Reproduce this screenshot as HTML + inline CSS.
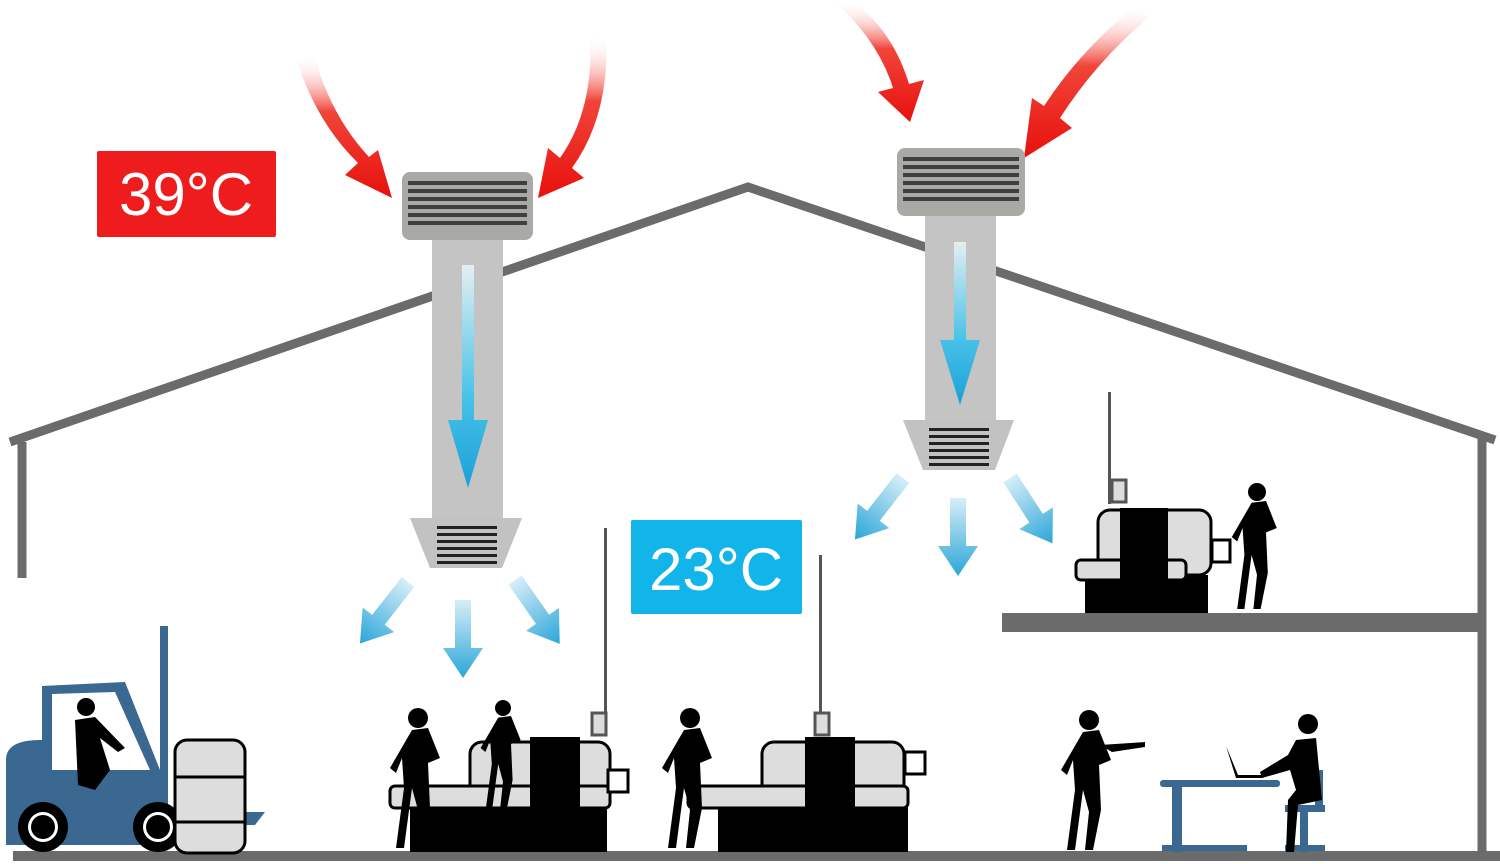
<!DOCTYPE html>
<html><head><meta charset="utf-8"><style>
html,body{margin:0;padding:0;background:#fff;}
svg{display:block}
text{font-family:"Liberation Sans",sans-serif}
</style></head><body>
<svg width="1500" height="864" viewBox="0 0 1500 864" xmlns="http://www.w3.org/2000/svg">
<defs>
<linearGradient id="red1" x1="0" y1="0" x2="0" y2="1"><stop offset="0" stop-color="#fff" stop-opacity="0"/><stop offset="0.4" stop-color="#f0453a"/><stop offset="1" stop-color="#e8100c"/></linearGradient>
<linearGradient id="blu" x1="0" y1="0" x2="0" y2="1"><stop offset="0" stop-color="#e6eef3"/><stop offset="0.6" stop-color="#46c2e8"/><stop offset="1" stop-color="#1ba0d6"/></linearGradient>
<linearGradient id="blu2" x1="0" y1="0" x2="0" y2="1"><stop offset="0" stop-color="#d6eef8"/><stop offset="1" stop-color="#2aa6d8"/></linearGradient>
<g id="person">
  <circle cx="0" cy="0" r="10"/>
  <path d="M-6 12 L10 10 L22 40 L10 45 L12 90 L4 130 L-4 130 L0 92 L-6 70 L-14 130 L-22 130 L-14 70 L-16 40 L-22 55 L-28 50 Z"/>
</g>
<g id="ba" fill="url(#blu2)"><path d="M-8 0 L8 0 L8 48 L20 48 L0 78 L-20 48 L-8 48 Z"/></g>
</defs>

<!-- house -->
<g fill="none" stroke="#6b6b6b" stroke-width="9">
  <polyline points="10,442 748,187 1495,440"/>
  <line x1="22" y1="442" x2="22" y2="578"/>
  <line x1="1482" y1="436" x2="1482" y2="860"/>
</g>
<rect x="13" y="851" width="1487" height="10" fill="#6b6b6b"/>
<rect x="1002" y="613" width="480" height="19" fill="#6b6b6b"/>

<!-- red arrows -->
<g fill="url(#red1)">
  <path d="M296 58 Q316 122 358 163 L345 175 L392 198 L378 150 L369 157 Q330 115 314 54 Z"/>
  <path d="M590 36 Q594 110 560 158 L548 148 L538 198 L584 178 L572 168 Q610 115 606 36 Z"/>
  <path d="M833 0 Q878 40 893 88 L878 92 L910 122 L924 80 L909 84 Q892 28 850 0 Z"/>
  <path d="M1138 4 Q1082 48 1044 106 L1032 98 L1024 158 L1072 128 L1060 118 Q1096 62 1148 18 Z"/>
</g>

<!-- unit 1 -->
<rect x="432" y="236" width="71" height="284" fill="#c4c4c4"/>
<rect x="402" y="172" width="131" height="68" rx="8" fill="#a9aaa6"/>
<g fill="#3f3f3f">
  <rect x="408" y="181" width="119" height="4"/><rect x="408" y="189" width="119" height="4"/><rect x="408" y="197" width="119" height="4"/><rect x="408" y="205" width="119" height="4"/><rect x="408" y="213" width="119" height="4"/><rect x="408" y="221" width="119" height="4"/>
</g>
<path d="M410 518 L522 518 L502 568 L430 568 Z" fill="#c2c2c2"/>
<g fill="#222"><rect x="437" y="526" width="60" height="3"/><rect x="437" y="533" width="60" height="3"/><rect x="437" y="540" width="60" height="3"/><rect x="437" y="547" width="60" height="3"/><rect x="437" y="554" width="60" height="3"/><rect x="437" y="561" width="60" height="3"/></g>
<path d="M462 265 L474 265 L474 420 L488 420 L468 488 L448 420 L462 420 Z" fill="url(#blu)"/>

<!-- unit 2 -->
<rect x="925" y="212" width="71" height="210" fill="#c4c4c4"/>
<rect x="897" y="148" width="128" height="68" rx="8" fill="#a9aaa6"/>
<g fill="#3f3f3f">
  <rect x="903" y="157" width="116" height="4"/><rect x="903" y="165" width="116" height="4"/><rect x="903" y="173" width="116" height="4"/><rect x="903" y="181" width="116" height="4"/><rect x="903" y="189" width="116" height="4"/><rect x="903" y="197" width="116" height="4"/>
</g>
<path d="M903 420 L1014 420 L995 470 L923 470 Z" fill="#c2c2c2"/>
<g fill="#222"><rect x="929" y="428" width="60" height="3"/><rect x="929" y="435" width="60" height="3"/><rect x="929" y="442" width="60" height="3"/><rect x="929" y="449" width="60" height="3"/><rect x="929" y="456" width="60" height="3"/><rect x="929" y="463" width="60" height="3"/></g>
<path d="M954 242 L966 242 L966 340 L980 340 L960 405 L940 340 L954 340 Z" fill="url(#blu)"/>

<!-- blue outlet arrows -->
<use href="#ba" transform="translate(463,600)"/>
<use href="#ba" transform="translate(408,582) rotate(38)"/>
<use href="#ba" transform="translate(515,580) rotate(-35)"/>
<use href="#ba" transform="translate(958,498)"/>
<use href="#ba" transform="translate(903,478) rotate(38)"/>
<use href="#ba" transform="translate(1010,478) rotate(-33)"/>

<!-- labels -->
<rect x="97" y="151" width="179" height="86" fill="#ee1c1c" rx="2"/>
<text x="186" y="215" font-size="60" fill="#fff" text-anchor="middle">39°C</text>
<rect x="631" y="520" width="171" height="94" fill="#12b5ea" rx="2"/>
<text x="716" y="590" font-size="60" fill="#fff" text-anchor="middle">23°C</text>

<!-- forklift -->
<g fill="#3a6890">
  <path d="M6 760 Q6 740 40 740 L42 740 L42 686 L125 682 L160 770 L168 770 L168 845 L6 845 Z"/>
  <path d="M160 626 h8 v200 h-8z"/>
  <path d="M168 812 L265 812 L255 825 L168 825 Z"/>
</g>
<path d="M52 694 L115 692 L150 770 L52 770 Z" fill="#fff"/>
<circle cx="43" cy="827" r="25" fill="#000"/><circle cx="43" cy="827" r="15" fill="#fff"/><circle cx="43" cy="827" r="12" fill="#000"/>
<circle cx="158" cy="827" r="25" fill="#000"/><circle cx="158" cy="827" r="15" fill="#fff"/><circle cx="158" cy="827" r="12" fill="#000"/>
<rect x="175" y="740" width="70" height="113" rx="12" fill="#ddd" stroke="#000" stroke-width="3"/>
<line x1="175" y1="777" x2="245" y2="777" stroke="#000" stroke-width="3"/><line x1="175" y1="822" x2="245" y2="822" stroke="#000" stroke-width="3"/>
<g fill="#000"><circle cx="86" cy="707" r="9"/><path d="M75 720 L95 717 L125 748 L118 752 L100 738 L110 770 L95 790 L78 785 Z"/></g>

<!-- machine 1 -->
<rect x="604" y="528" width="3" height="185" fill="#555"/>
<rect x="592" y="713" width="14" height="22" fill="#ddd" stroke="#555" stroke-width="3"/>
<rect x="410" y="790" width="197" height="62" fill="#000"/>
<rect x="470" y="742" width="140" height="60" rx="12" fill="#ddd" stroke="#000" stroke-width="3"/>
<rect x="390" y="786" width="220" height="22" rx="5" fill="#ddd" stroke="#000" stroke-width="3"/>
<rect x="530" y="737" width="50" height="115" fill="#000"/>
<rect x="608" y="770" width="20" height="22" fill="#fff" stroke="#000" stroke-width="3"/>
<use href="#person" transform="translate(418,718)" fill="#000"/>
<use href="#person" transform="translate(503,708) scale(0.8)" fill="#000"/>

<!-- machine 2 -->
<rect x="819" y="555" width="3" height="160" fill="#555"/>
<rect x="815" y="713" width="14" height="22" fill="#ddd" stroke="#555" stroke-width="3"/>
<rect x="718" y="795" width="190" height="57" fill="#000"/>
<rect x="762" y="742" width="142" height="58" rx="12" fill="#ddd" stroke="#000" stroke-width="3"/>
<rect x="688" y="786" width="220" height="22" rx="5" fill="#ddd" stroke="#000" stroke-width="3"/>
<rect x="805" y="737" width="50" height="115" fill="#000"/>
<rect x="905" y="752" width="20" height="22" fill="#fff" stroke="#000" stroke-width="3"/>
<use href="#person" transform="translate(690,718)" fill="#000"/>

<!-- machine 3 mezzanine -->
<rect x="1108" y="392" width="3" height="112" fill="#555"/>
<rect x="1112" y="480" width="14" height="22" fill="#ddd" stroke="#555" stroke-width="3"/>
<rect x="1085" y="575" width="123" height="38" fill="#000"/>
<rect x="1098" y="510" width="113" height="65" rx="12" fill="#ddd" stroke="#000" stroke-width="3"/>
<rect x="1076" y="560" width="110" height="20" rx="5" fill="#ddd" stroke="#000" stroke-width="3"/>
<rect x="1120" y="508" width="48" height="105" fill="#000"/>
<rect x="1212" y="540" width="18" height="22" fill="#fff" stroke="#000" stroke-width="3"/>
<use href="#person" transform="translate(1257,492) scale(0.9)" fill="#000"/>

<!-- lower right people & desk -->
<use href="#person" transform="translate(1089,720)" fill="#000"/>
<path d="M1100 745 L1145 742 L1145 747 L1112 752 Z" fill="#000"/>
<g fill="#3a6890">
  <rect x="1160" y="780" width="120" height="7" rx="3"/>
  <rect x="1172" y="787" width="10" height="65"/>
  <rect x="1162" y="845" width="85" height="6"/>
  <rect x="1285" y="805" width="40" height="7"/>
  <rect x="1315" y="770" width="8" height="40"/>
  <rect x="1300" y="812" width="8" height="40"/>
  <rect x="1285" y="845" width="40" height="6"/>
</g>
<path d="M1226 746 L1238 775 L1262 775 L1262 778 L1236 778 Z" fill="#000"/>
<g fill="#000"><circle cx="1308" cy="724" r="10"/><path d="M1296 740 L1316 738 L1322 800 L1298 805 L1294 852 L1286 852 L1288 800 L1296 790 L1290 770 L1262 778 L1260 772 L1288 755 Z"/></g>
</svg>
</body></html>
